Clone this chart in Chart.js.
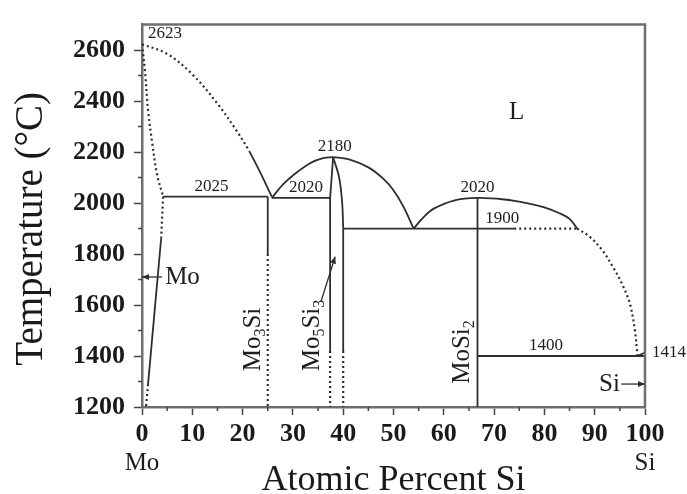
<!DOCTYPE html>
<html lang="en">
<head>
<meta charset="UTF-8">
<title>Mo-Si Phase Diagram</title>
<script src="https://cdn.jsdelivr.net/npm/chart.js"></script>
<style>
  html, body { margin: 0; padding: 0; background: #fff; }
</style>
</head>
<body>
<canvas id="phaseChart" width="687" height="494"></canvas>
<script>
// axis ticks (major get labels, minor are short marks)
const tempTicks = [1200, 1400, 1600, 1800, 2000, 2200, 2400, 2600];
const tempMinor = [1300, 1500, 1700, 1900, 2100, 2300, 2500];
const siTicks = [0, 10, 20, 30, 40, 50, 60, 70, 80, 90, 100];
const siMinor = [5, 15, 25, 35, 45, 55, 65, 75, 85, 95];

// phase boundaries: [at.% Si, T in °C]
const moLiquidusDash = [[0, 2623], [5, 2585], [10, 2505], [15, 2390], [19, 2278], [21.3, 2205]];
const moLiquidusSolid = [[21.3, 2205], [23.5, 2120], [25.8, 2025]];
const moSolidusDash = [[0, 2623], [0.6, 2517], [1.2, 2365], [2.0, 2240], [3.0, 2111], [4.2, 2025]];
const moSolvusDashTop = [[4.2, 2025], [3.8, 1860]];
const moSolvusSolid = [[3.8, 1860], [1.2, 1290]];
const moSolvusDashLow = [[1.2, 1290], [0.8, 1200]];
const peritectic2025 = [[4.2, 2025], [25, 2025]];
const mo3SiSolid = [[25, 2025], [25, 1800]];
const mo3SiDash = [[25, 1800], [25, 1200]];
const eutectic2020 = [[25.8, 2020], [37.4, 2020]];
const liquidusMo3SiMo5Si3 = [[25.8, 2020], [28, 2072], [30, 2108], [33.4, 2156], [36, 2176], [38, 2180]];
const mo5Si3LeftSolid = [[38, 2180], [37.4, 2020], [37.4, 1420]];
const mo5Si3LeftDash = [[37.4, 1420], [37.4, 1200]];
const mo5Si3RightCurve = [[38, 2180], [39.2, 2100], [39.8, 2000], [40, 1900]];
const mo5Si3RightSolid = [[40, 1900], [40, 1420]];
const mo5Si3RightDash = [[40, 1420], [40, 1200]];
const liquidusMo5Si3MoSi2 = [[38, 2180], [41, 2172], [45, 2140], [48, 2095], [50, 2050], [52, 1985], [54, 1900]];
const eutectic1900Solid = [[40, 1900], [74, 1900]];
const eutectic1900Dash = [[74, 1900], [86.5, 1900]];
const moSi2Liquidus = [[54, 1900], [56, 1945], [58, 1978], [62, 2010], [66.7, 2020], [72, 2014], [76.5, 2000], [80, 1983], [83, 1960], [85, 1938], [86.5, 1900]];
const siLiquidusDash = [[86.5, 1900], [89, 1868], [91.5, 1815], [93.7, 1747], [95.5, 1680], [97, 1605], [98, 1500], [98.5, 1400]];
const siMeltSolid = [[98.5, 1400], [100, 1414]];
const moSi2Line = [[66.7, 2020], [66.7, 1200]];
const eutectic1400 = [[66.7, 1400], [100, 1400]];

const boundaries = [
  { pts: moLiquidusDash, dash: true, curve: true },
  { pts: moLiquidusSolid, curve: true },
  { pts: moSolidusDash, dash: true, curve: true },
  { pts: moSolvusDashTop, dash: true },
  { pts: moSolvusSolid },
  { pts: moSolvusDashLow, dash: true },
  { pts: peritectic2025 },
  { pts: mo3SiSolid },
  { pts: mo3SiDash, dash: true },
  { pts: eutectic2020 },
  { pts: liquidusMo3SiMo5Si3, curve: true },
  { pts: mo5Si3LeftSolid },
  { pts: mo5Si3LeftDash, dash: true },
  { pts: mo5Si3RightCurve, curve: true },
  { pts: mo5Si3RightSolid },
  { pts: mo5Si3RightDash, dash: true },
  { pts: liquidusMo5Si3MoSi2, curve: true },
  { pts: eutectic1900Solid },
  { pts: eutectic1900Dash, dash: true },
  { pts: moSi2Liquidus, curve: true },
  { pts: siLiquidusDash, dash: true, curve: true },
  { pts: siMeltSolid },
  { pts: moSi2Line },
  { pts: eutectic1400 }
];

// temperature labels sitting on their lines
const tempLabels = [
  { text: '2623', x: 1.2, t: 2623, align: 'left' },
  { text: '2025', x: 13.8, t: 2025 },
  { text: '2020', x: 32.6, t: 2020 },
  { text: '2180', x: 38.3, t: 2180 },
  { text: '2020', x: 66.7, t: 2020 },
  { text: '1900', x: 71.6, t: 1900 },
  { text: '1400', x: 80.3, t: 1400 },
  { text: '1414', x: 101, t: 1414, align: 'left', middle: true }
];

// compound names written upward; [text, isSubscript]
const chemLabels = [
  { parts: [['Mo', 0], ['3', 1], ['Si', 0]], x: 23.5, t: 1340 },
  { parts: [['Mo', 0], ['5', 1], ['Si', 0], ['3', 1]], x: 35.1, t: 1340 },
  { parts: [['Mo', 0], ['Si', 0], ['2', 1]], x: 65.0, t: 1291 }
];

const phaseLabels = [
  { text: 'L', x: 74.5, t: 2355, align: 'center' },
  { text: 'Mo', x: 4.6, t: 1710, align: 'left' },
  { text: 'Si', x: 95, t: 1290, align: 'right' }
];

const pointers = [
  { from: [4, 1710], to: [0, 1710] },
  { from: [95.3, 1290], to: [100, 1290] },
  { from: [35.6, 1615], to: [38.4, 1790] }
];

const SERIF = "'Liberation Serif', 'Times New Roman', serif";
const INK = '#2e2e2e';
const FRAME = '#6e6e6e';

function arrowHead(ctx, x0, y0, x1, y1) {
  const a = Math.atan2(y1 - y0, x1 - x0);
  ctx.beginPath();
  ctx.moveTo(x1, y1);
  ctx.lineTo(x1 - 7 * Math.cos(a) + 3 * Math.sin(a), y1 - 7 * Math.sin(a) - 3 * Math.cos(a));
  ctx.lineTo(x1 - 7 * Math.cos(a) - 3 * Math.sin(a), y1 - 7 * Math.sin(a) + 3 * Math.cos(a));
  ctx.closePath();
  ctx.fill();
}

const annotate = {
  id: 'annotate',
  afterDraw(chart) {
    const { ctx, chartArea: area } = chart;
    const xs = chart.scales.x, ys = chart.scales.y;
    ctx.save();

    // top and right frame
    ctx.strokeStyle = FRAME;
    ctx.lineWidth = 2.5;
    ctx.beginPath();
    ctx.moveTo(area.left - 1, area.top);
    ctx.lineTo(area.right, area.top);
    ctx.lineTo(area.right, area.bottom);
    ctx.stroke();

    // minor ticks
    ctx.strokeStyle = '#444';
    ctx.lineWidth = 1.5;
    ctx.beginPath();
    tempMinor.forEach(v => {
      const y = ys.getPixelForValue(v);
      ctx.moveTo(area.left - 4, y);
      ctx.lineTo(area.left, y);
    });
    siMinor.forEach(v => {
      const x = xs.getPixelForValue(v);
      ctx.moveTo(x, area.bottom);
      ctx.lineTo(x, area.bottom + 4);
    });
    ctx.stroke();

    // pointers
    ctx.strokeStyle = INK;
    ctx.fillStyle = INK;
    ctx.lineWidth = 1.3;
    pointers.forEach(p => {
      const x0 = xs.getPixelForValue(p.from[0]), y0 = ys.getPixelForValue(p.from[1]);
      const x1 = xs.getPixelForValue(p.to[0]), y1 = ys.getPixelForValue(p.to[1]);
      ctx.beginPath();
      ctx.moveTo(x0, y0);
      ctx.lineTo(x1, y1);
      ctx.stroke();
      arrowHead(ctx, x0, y0, x1, y1);
    });

    // temperature labels
    ctx.fillStyle = '#1e1e1e';
    ctx.font = '17px ' + SERIF;
    tempLabels.forEach(l => {
      ctx.textAlign = l.align || 'center';
      ctx.textBaseline = l.middle ? 'middle' : 'bottom';
      const y = ys.getPixelForValue(l.t) - (l.middle ? 0 : 2);
      ctx.fillText(l.text, xs.getPixelForValue(l.x) + (l.middle ? 2 : 0), y);
    });

    // phase / element labels
    ctx.font = '25px ' + SERIF;
    ctx.textBaseline = 'middle';
    phaseLabels.forEach(l => {
      ctx.textAlign = l.align;
      ctx.fillText(l.text, xs.getPixelForValue(l.x), ys.getPixelForValue(l.t));
    });

    // compound names, rotated
    chemLabels.forEach(c => {
      ctx.save();
      ctx.translate(xs.getPixelForValue(c.x), ys.getPixelForValue(c.t));
      ctx.rotate(-Math.PI / 2);
      ctx.textAlign = 'left';
      ctx.textBaseline = 'alphabetic';
      let cx = 0;
      c.parts.forEach(([txt, sub]) => {
        ctx.font = (sub ? '16px ' : '25px ') + SERIF;
        ctx.fillText(txt, cx, sub ? 5 : 0);
        cx += ctx.measureText(txt).width;
      });
      ctx.restore();
    });

    // end-member names under the axis
    ctx.font = '25px ' + SERIF;
    ctx.textAlign = 'center';
    ctx.textBaseline = 'middle';
    ctx.fillText('Mo', xs.getPixelForValue(0), area.bottom + 56);
    ctx.fillText('Si', xs.getPixelForValue(100), area.bottom + 56);

    // temperature axis title, sits a little below the plot's middle
    ctx.save();
    ctx.translate(42, area.top + (area.bottom - area.top) / 2 + 13);
    ctx.rotate(-Math.PI / 2);
    ctx.font = '39px ' + SERIF;
    ctx.fillStyle = '#1a1a1a';
    ctx.textAlign = 'center';
    ctx.textBaseline = 'alphabetic';
    ctx.fillText('Temperature (°C)', 0, 0);
    ctx.restore();

    ctx.restore();
  }
};

const datasets = boundaries.map(b => ({
  data: b.pts.map(p => ({ x: p[0], y: p[1] })),
  showLine: true,
  borderColor: INK,
  borderWidth: b.dash ? 2.2 : 1.8,
  borderDash: b.dash ? [2, 3] : [],
  tension: b.curve ? 0.35 : 0,
  pointRadius: 0,
  fill: false
}));

new Chart(document.getElementById('phaseChart'), {
  type: 'scatter',
  data: { datasets },
  options: {
    responsive: false,
    animation: false,
    layout: { padding: { top: 13, right: 42, left: 0, bottom: 0 } },
    plugins: { legend: { display: false }, tooltip: { enabled: false } },
    scales: {
      x: {
        type: 'linear',
        min: 0,
        max: 100,
        afterBuildTicks: s => { s.ticks = siTicks.map(v => ({ value: v })); },
        afterFit: s => { s.height = 87; },
        grid: { display: true, drawOnChartArea: false, drawTicks: true, tickLength: 8, tickColor: '#444', tickWidth: 1.5 },
        border: { display: true, color: FRAME, width: 2.5 },
        ticks: { color: '#1a1a1a', font: { family: SERIF, size: 26, weight: 'bold' }, padding: 4, maxRotation: 0, autoSkip: false, callback: v => String(v) },
        title: { display: true, text: 'Atomic Percent Si', color: '#1a1a1a', font: { family: SERIF, size: 36, lineHeight: 1 }, padding: { top: 0, bottom: -5 } }
      },
      y: {
        type: 'linear',
        min: 1200,
        max: 2700,
        afterBuildTicks: s => { s.ticks = tempTicks.map(v => ({ value: v })); },
        afterFit: s => { s.width = 142; },
        grid: { display: true, drawOnChartArea: false, drawTicks: true, tickLength: 8, tickColor: '#444', tickWidth: 1.5 },
        border: { display: true, color: FRAME, width: 2.5 },
        ticks: { color: '#1a1a1a', font: { family: SERIF, size: 26, weight: 'bold' }, padding: 9, autoSkip: false, callback: v => String(v) },
        title: { display: false }
      }
    }
  },
  plugins: [annotate]
});
</script>
</body>
</html>
